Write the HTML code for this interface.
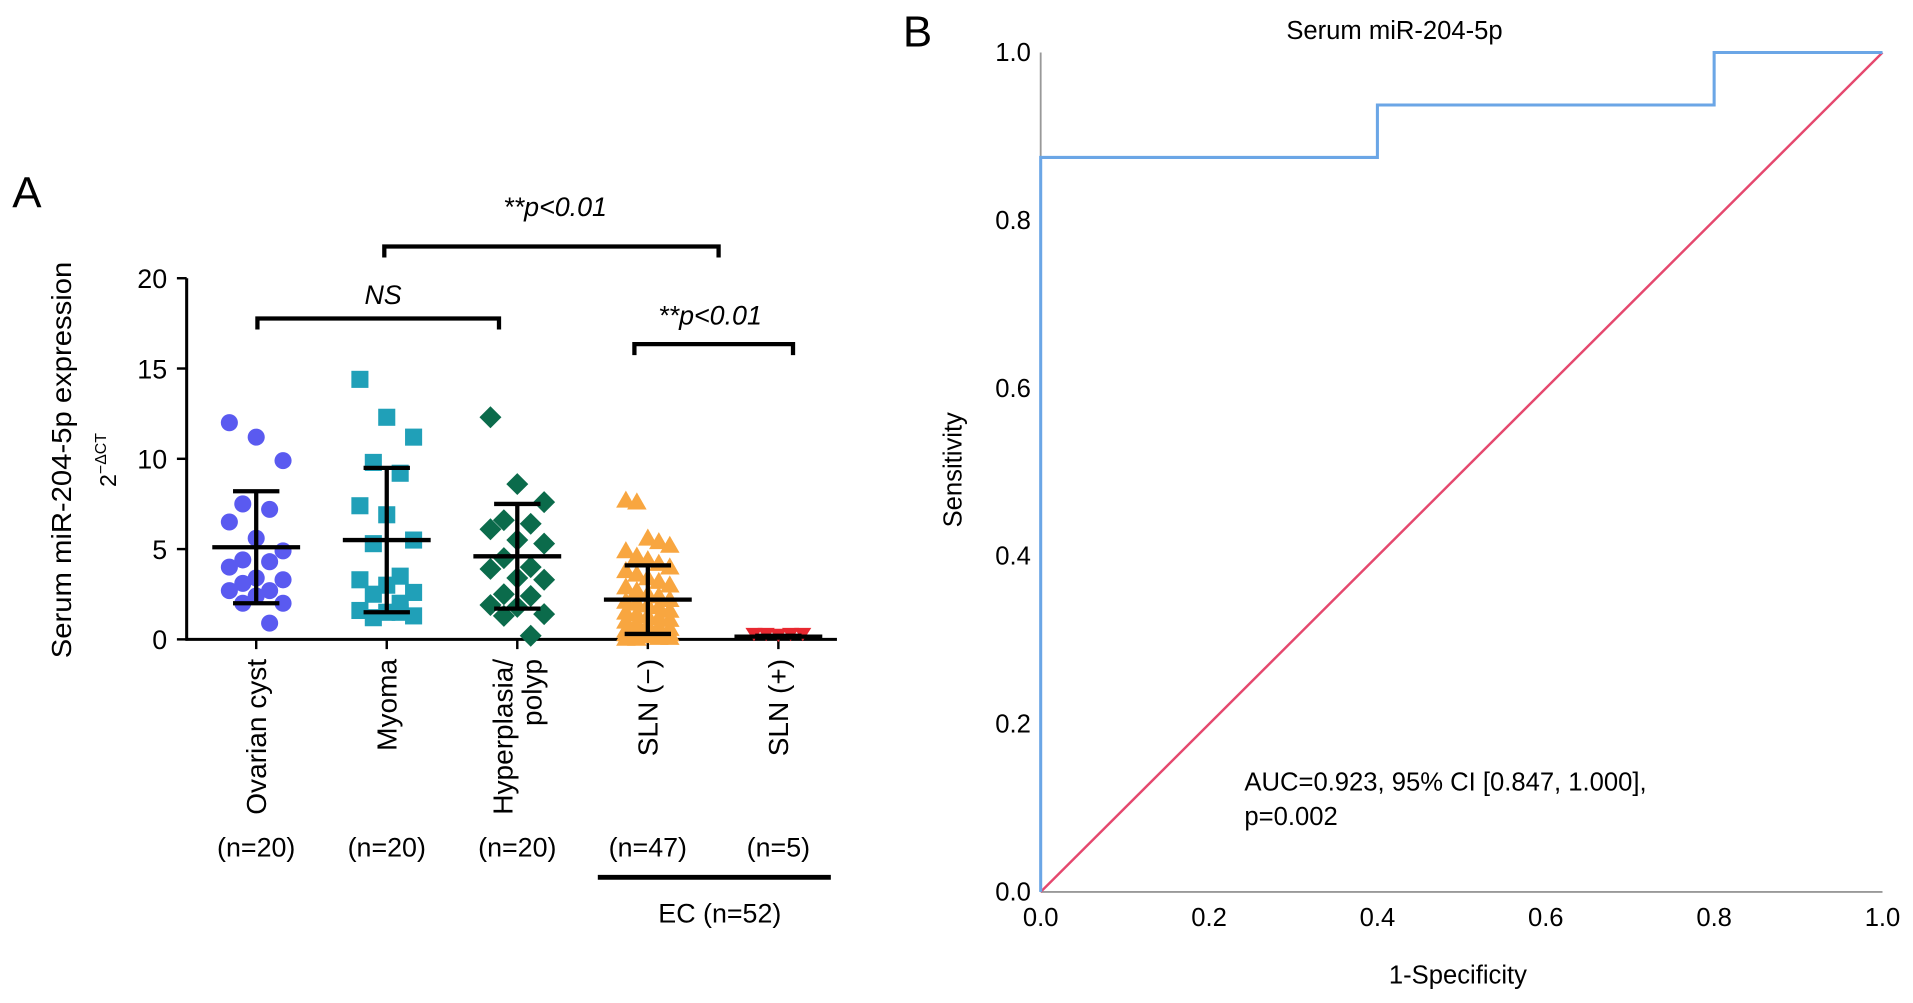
<!DOCTYPE html>
<html><head><meta charset="utf-8"><style>
html,body{margin:0;padding:0;background:#fff}
svg{display:block;font-family:"Liberation Sans",Arial,sans-serif}
</style></head><body>
<svg id="fig" width="1913" height="1003" viewBox="0 0 1568 822">
<text x="10" y="170" font-size="36">A</text>
<text x="740" y="38" font-size="36">B</text>
<g id="left"></g>
<g id="right"></g>
</svg>
<script>
const categories=["Ovarian cyst","Myoma","Hyperplasia/ polyp","SLN (\u2212)","SLN (+)"];
const nLabels=["(n=20)","(n=20)","(n=20)","(n=47)","(n=5)"];
const ovarian=[12.0,11.2,9.9,7.5,7.2,6.5,5.6,4.9,4.4,4.3,4.0,3.4,3.3,3.1,2.7,2.7,2.4,2.0,2.0,0.9];
const myoma=[14.4,12.3,11.2,9.8,9.2,7.4,6.9,5.5,5.3,3.5,3.3,3.0,2.6,2.5,2.0,1.6,1.5,1.3,1.2,1.5];
const hyper=[12.3,8.6,7.6,6.6,6.4,6.1,5.5,5.3,4.5,4.0,3.9,3.4,3.3,2.5,2.4,1.9,1.8,1.4,1.3,0.2];
const slnNeg=[7.7,7.6,5.6,5.4,5.2,4.9,4.6,4.4,4.2,4.0,3.8,3.6,3.4,3.2,3.0,2.9,2.7,2.5,2.4,2.2,2.1,2.0,1.9,1.8,1.6,1.5,1.4,1.3,1.2,1.1,1.0,0.9,0.8,0.7,0.6,0.5,0.5,0.4,0.4,0.3,0.3,0.2,0.2,0.1,0.1,0.05,0.05];
const slnPos=[0.3,0.3,0.25,0.3,0.3];
const means=[5.1,5.5,4.6,2.2,0.15];
const sdLow=[2.0,1.5,1.7,0.3,0.1];
const sdHigh=[8.2,9.5,7.5,4.1,0.2];
const yTicks=[0,5,10,15,20];
const rocFpr=[0,0,0.4,0.4,0.8,0.8,1];
const rocTpr=[0,0.875,0.875,0.9375,0.9375,1,1];
const rocTicks=[0,0.2,0.4,0.6,0.8,1.0];

const NS="http://www.w3.org/2000/svg";
function mk(p,t,a,txt){const e=document.createElementNS(NS,t);for(const k in a)e.setAttribute(k,a[k]);if(txt!==undefined)e.textContent=txt;p.appendChild(e);return e;}
const L=document.getElementById('left'),R=document.getElementById('right');
const yS=v=>524-v*(296/20);
const xC=i=>210+i*107;
let e=mk(L,'line',{x1:153,y1:228,x2:153,y2:525,stroke:'#000','stroke-width':2.5});

e=mk(L,'line',{x1:152,y1:524,x2:686,y2:524,stroke:'#000','stroke-width':2.5});

yTicks.forEach(t=>{const y=yS(t);mk(L,'line',{x1:145,y1:y,x2:153,y2:y,stroke:'#000','stroke-width':2});
e=mk(L,'text',{x:137,y:y+8,'font-size':22,'text-anchor':'end'},String(t));
});
e=mk(L,'text',{transform:'translate(58,377) rotate(-90)','font-size':23,'text-anchor':'middle',textLength:325,lengthAdjust:'spacingAndGlyphs'},'Serum miR-204-5p expression');

e=mk(L,'text',{transform:'translate(95,377) rotate(-90)','font-size':19,'text-anchor':'middle'});
e.innerHTML='2<tspan font-size="13" dy="-8">\u2212\u0394CT</tspan>';

categories.forEach((c,i)=>{const x=xC(i);mk(L,'line',{x1:x,y1:524,x2:x,y2:532,stroke:'#000','stroke-width':2});
const parts=c==="Hyperplasia/ polyp"?["Hyperplasia/","polyp"]:[c];
parts.forEach((p,j)=>{const dx=parts.length>1?(j===0?-12:12):0;
e=mk(L,'text',{transform:`translate(${x+8+dx},540) rotate(-90)`,'font-size':23,'text-anchor':'end'},p);
});
e=mk(L,'text',{x:x,y:702,'font-size':22,'text-anchor':'middle'},nLabels[i]);
});
e=mk(L,'line',{x1:490,y1:719,x2:681,y2:719,stroke:'#000','stroke-width':4});

e=mk(L,'text',{x:590,y:756,'font-size':22,'text-anchor':'middle'},'EC (n=52)');

const series=[ovarian,myoma,hyper,slnNeg,slnPos];
const colors=['#5a5af0','#20a0b8','#0b6b4b','#f8a640','#e82830'];
const names=['ovarian-point','myoma-point','hyperplasia-point','sln-neg-point','sln-pos-point'];
series.forEach((arr,i)=>{const cx=xC(i);arr.forEach((v,k)=>{
const sp=i===3?[-18,-9,0,9,18]:(i===4?[-20,-10,0,10,20]:[-22,0,22,-11,11]);
const x=cx+sp[k%sp.length],y=yS(v);let m;
if(i===0)m=mk(L,'circle',{cx:x,cy:y,r:7,fill:colors[i]});
else if(i===1)m=mk(L,'rect',{x:x-7,y:y-7,width:14,height:14,fill:colors[i]});
else if(i===2)m=mk(L,'polygon',{points:`${x},${y-9} ${x+9},${y} ${x},${y+9} ${x-9},${y}`,fill:colors[i]});
else if(i===3)m=mk(L,'polygon',{points:`${x},${y-8} ${x+8},${y+6} ${x-8},${y+6}`,fill:colors[i]});
else m=mk(L,'polygon',{points:`${x-7},${y-5} ${x+7},${y-5} ${x},${y+6}`,fill:colors[i]});
});
const g=mk(L,'g',{stroke:'#000','stroke-width':3.5});

mk(g,'line',{x1:cx,y1:yS(sdLow[i]),x2:cx,y2:yS(sdHigh[i])});
mk(g,'line',{x1:cx-19,y1:yS(sdLow[i]),x2:cx+19,y2:yS(sdLow[i])});
mk(g,'line',{x1:cx-19,y1:yS(sdHigh[i]),x2:cx+19,y2:yS(sdHigh[i])});
mk(g,'line',{x1:cx-36,y1:yS(means[i]),x2:cx+36,y2:yS(means[i])});});
function bracket(x1,x2,y,label,tx,ty,name){const b=mk(L,'path',{d:`M${x1},${y+9}V${y}H${x2}V${y+9}`,fill:'none',stroke:'#000','stroke-width':3.5});

const t=mk(L,'text',{x:tx,y:ty,'font-size':22,'font-style':'italic','text-anchor':'middle'},label);
}
bracket(211,409,261,'NS',314,249,'ns-bracket');
bracket(315,589,202,'**p<0.01',455,177,'ec-bracket');
bracket(520,650,282,'**p<0.01',582,266,'sln-bracket');
const X0=853,X1=1543,Y0=731,Y1=43;
const rx=v=>X0+v*(X1-X0),ry=v=>Y0-v*(Y0-Y1);
e=mk(R,'line',{x1:X0,y1:Y1,x2:X0,y2:Y0,stroke:'#999','stroke-width':1.5});

e=mk(R,'line',{x1:X0,y1:Y0,x2:X1,y2:Y0,stroke:'#999','stroke-width':1.5});

rocTicks.forEach(t=>{e=mk(R,'text',{x:X0-8,y:ry(t)+7,'font-size':21,'text-anchor':'end'},t.toFixed(1));

e=mk(R,'text',{x:rx(t),y:759,'font-size':21,'text-anchor':'middle'},t.toFixed(1));
});
e=mk(R,'line',{x1:rx(0),y1:ry(0),x2:rx(1),y2:ry(1),stroke:'#e5486e','stroke-width':2});

e=mk(R,'polyline',{points:rocFpr.map((f,i)=>rx(f)+','+ry(rocTpr[i])).join(' '),fill:'none',stroke:'#6ba6e6','stroke-width':2.5});

e=mk(R,'text',{x:1143,y:32,'font-size':21,'text-anchor':'middle'},'Serum miR-204-5p');

e=mk(R,'text',{transform:'translate(788,385) rotate(-90)','font-size':21,'text-anchor':'middle'},'Sensitivity');

e=mk(R,'text',{x:1195,y:806,'font-size':21,'text-anchor':'middle'},'1-Specificity');

e=mk(R,'text',{x:1020,y:648,'font-size':21},'AUC=0.923, 95% CI [0.847, 1.000],');

e=mk(R,'text',{x:1020,y:676,'font-size':21},'p=0.002');

</script>
</body></html>
